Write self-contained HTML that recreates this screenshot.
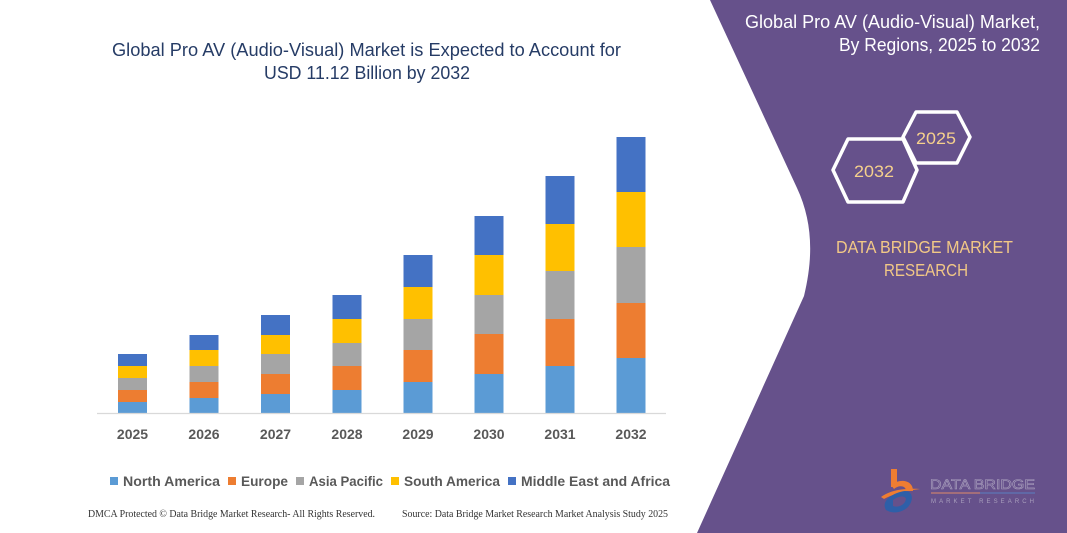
<!DOCTYPE html>
<html><head><meta charset="utf-8"><style>
html,body{margin:0;padding:0;background:#fff;}
svg{display:block;}
</style></head><body>
<svg width="1067" height="533" viewBox="0 0 1067 533" xmlns="http://www.w3.org/2000/svg">
<rect width="1067" height="533" fill="#ffffff"/>
<!-- purple panel -->
<path d="M710,0 L797,188 C812,220 814,255 804,296 L697,533 L1067,533 L1067,0 Z" fill="#66518b"/>

<!-- title -->
<g font-family="Liberation Sans, sans-serif" font-size="18" fill="#263c66">
<text x="112" y="56" textLength="509" lengthAdjust="spacingAndGlyphs">Global Pro AV (Audio-Visual) Market is Expected to Account for</text>
<text x="264" y="79" textLength="206" lengthAdjust="spacingAndGlyphs">USD 11.12 Billion by 2032</text>
</g>

<!-- bars -->
<g>
<!-- 2025 -->
<rect x="118" y="402" width="29" height="11" fill="#5b9bd5"/>
<rect x="118" y="390" width="29" height="12" fill="#ed7d31"/>
<rect x="118" y="378" width="29" height="12" fill="#a5a5a5"/>
<rect x="118" y="366" width="29" height="12" fill="#ffc000"/>
<rect x="118" y="354" width="29" height="12" fill="#4472c4"/>
<!-- 2026 -->
<rect x="189.5" y="398" width="29" height="15" fill="#5b9bd5"/>
<rect x="189.5" y="382" width="29" height="16" fill="#ed7d31"/>
<rect x="189.5" y="366" width="29" height="16" fill="#a5a5a5"/>
<rect x="189.5" y="350" width="29" height="16" fill="#ffc000"/>
<rect x="189.5" y="335" width="29" height="15" fill="#4472c4"/>
<!-- 2027 -->
<rect x="261" y="394" width="29" height="19" fill="#5b9bd5"/>
<rect x="261" y="374" width="29" height="20" fill="#ed7d31"/>
<rect x="261" y="354" width="29" height="20" fill="#a5a5a5"/>
<rect x="261" y="335" width="29" height="19" fill="#ffc000"/>
<rect x="261" y="315" width="29" height="20" fill="#4472c4"/>
<!-- 2028 -->
<rect x="332.5" y="390" width="29" height="23" fill="#5b9bd5"/>
<rect x="332.5" y="366" width="29" height="24" fill="#ed7d31"/>
<rect x="332.5" y="343" width="29" height="23" fill="#a5a5a5"/>
<rect x="332.5" y="319" width="29" height="24" fill="#ffc000"/>
<rect x="332.5" y="295" width="29" height="24" fill="#4472c4"/>
<!-- 2029 -->
<rect x="403.5" y="382" width="29" height="31" fill="#5b9bd5"/>
<rect x="403.5" y="350" width="29" height="32" fill="#ed7d31"/>
<rect x="403.5" y="319" width="29" height="31" fill="#a5a5a5"/>
<rect x="403.5" y="287" width="29" height="32" fill="#ffc000"/>
<rect x="403.5" y="255" width="29" height="32" fill="#4472c4"/>
<!-- 2030 -->
<rect x="474.5" y="374" width="29" height="39" fill="#5b9bd5"/>
<rect x="474.5" y="334" width="29" height="40" fill="#ed7d31"/>
<rect x="474.5" y="295" width="29" height="39" fill="#a5a5a5"/>
<rect x="474.5" y="255" width="29" height="40" fill="#ffc000"/>
<rect x="474.5" y="216" width="29" height="39" fill="#4472c4"/>
<!-- 2031 -->
<rect x="545.5" y="366" width="29" height="47" fill="#5b9bd5"/>
<rect x="545.5" y="319" width="29" height="47" fill="#ed7d31"/>
<rect x="545.5" y="271" width="29" height="48" fill="#a5a5a5"/>
<rect x="545.5" y="224" width="29" height="47" fill="#ffc000"/>
<rect x="545.5" y="176" width="29" height="48" fill="#4472c4"/>
<!-- 2032 -->
<rect x="616.5" y="358" width="29" height="55" fill="#5b9bd5"/>
<rect x="616.5" y="303" width="29" height="55" fill="#ed7d31"/>
<rect x="616.5" y="247" width="29" height="56" fill="#a5a5a5"/>
<rect x="616.5" y="192" width="29" height="55" fill="#ffc000"/>
<rect x="616.5" y="137" width="29" height="55" fill="#4472c4"/>
</g>
<line x1="97" y1="413.5" x2="666" y2="413.5" stroke="#d9d9d9" stroke-width="1.2"/>

<!-- year labels -->
<g font-family="Liberation Sans, sans-serif" font-size="14" font-weight="bold" fill="#595959" text-anchor="middle">
<text x="132.5" y="439">2025</text>
<text x="204" y="439">2026</text>
<text x="275.5" y="439">2027</text>
<text x="347" y="439">2028</text>
<text x="418" y="439">2029</text>
<text x="489" y="439">2030</text>
<text x="560" y="439">2031</text>
<text x="631" y="439">2032</text>
</g>

<!-- legend -->
<g font-family="Liberation Sans, sans-serif" font-size="13.5" font-weight="bold" fill="#595959">
<rect x="110" y="477" width="8" height="8" fill="#5b9bd5"/>
<text x="123" y="486" textLength="97" lengthAdjust="spacingAndGlyphs">North America</text>
<rect x="228" y="477" width="8" height="8" fill="#ed7d31"/>
<text x="241" y="486" textLength="47" lengthAdjust="spacingAndGlyphs">Europe</text>
<rect x="296" y="477" width="8" height="8" fill="#a5a5a5"/>
<text x="309" y="486" textLength="74" lengthAdjust="spacingAndGlyphs">Asia Pacific</text>
<rect x="391" y="477" width="8" height="8" fill="#ffc000"/>
<text x="404" y="486" textLength="96" lengthAdjust="spacingAndGlyphs">South America</text>
<rect x="508" y="477" width="8" height="8" fill="#4472c4"/>
<text x="521" y="486" textLength="149" lengthAdjust="spacingAndGlyphs">Middle East and Africa</text>
</g>

<!-- footer -->
<g font-family="Liberation Serif, serif" font-size="10" fill="#333">
<text x="88" y="517" textLength="287" lengthAdjust="spacingAndGlyphs">DMCA Protected © Data Bridge Market Research-  All Rights Reserved.</text>
<text x="402" y="517" textLength="266" lengthAdjust="spacingAndGlyphs">Source: Data Bridge Market Research  Market Analysis Study 2025</text>
</g>

<!-- right header -->
<g font-family="Liberation Sans, sans-serif" font-size="18" fill="#ffffff" text-anchor="end">
<text x="1040" y="28" textLength="295" lengthAdjust="spacingAndGlyphs">Global Pro AV (Audio-Visual) Market,</text>
<text x="1040" y="51" textLength="201" lengthAdjust="spacingAndGlyphs">By Regions, 2025 to 2032</text>
</g>

<!-- hexagons -->
<polygon points="833,170 848,139 903,139 917,170 903,202 848,202" fill="none" stroke="#ffffff" stroke-width="3.5" stroke-linejoin="round"/>
<polygon points="903,137 916,112 957,112 970,137 957,163 916,163" fill="none" stroke="#ffffff" stroke-width="3.5" stroke-linejoin="round"/>
<g font-family="Liberation Sans, sans-serif" font-size="17" fill="#f5d08c" text-anchor="middle">
<text x="874" y="177" textLength="40" lengthAdjust="spacingAndGlyphs">2032</text>
<text x="936" y="144" textLength="40" lengthAdjust="spacingAndGlyphs">2025</text>
</g>

<!-- DBMR text -->
<g font-family="Liberation Sans, sans-serif" font-size="17.5" fill="#f2c886" text-anchor="middle">
<text x="924.5" y="253" textLength="177" lengthAdjust="spacingAndGlyphs">DATA BRIDGE MARKET</text>
<text x="926" y="276" textLength="84" lengthAdjust="spacingAndGlyphs">RESEARCH</text>
</g>

<!-- logo -->
<g>
<rect x="891" y="469" width="6" height="18" fill="#ee7d32"/>
<path d="M891,485 C900,478 913,480 913,491 L906,491 C906,485 898,485 894,489 Z" fill="#ee7d32"/>
<path d="M881,497 C890,490 905,488 920,489 C905,491 893,494 884,499 Z" fill="#ee7d32"/>
<path d="M886,510 C880,500 895,492 905,491 C913,491 914,500 908,507 C902,513 892,514 886,510 Z M893,506 C898,508 905,505 906,499 C905,495 898,496 893,500 Z" fill="#2e5fa8"/>
<g font-family="Liberation Sans, sans-serif" fill="none" stroke="#a99fbd" stroke-width="0.6">
<text x="930" y="489" font-size="14" textLength="105" lengthAdjust="spacingAndGlyphs">DATA BRIDGE</text>
</g>
<line x1="931" y1="493" x2="980" y2="493" stroke="#e08a6a" stroke-width="1"/>
<line x1="980" y1="493" x2="1035" y2="493" stroke="#5a7fc0" stroke-width="1"/>
<text x="931" y="503" font-family="Liberation Sans, sans-serif" font-size="6" fill="#a99fbd" textLength="103" lengthAdjust="spacing">MARKET RESEARCH</text>
</g>
</svg>
</body></html>
